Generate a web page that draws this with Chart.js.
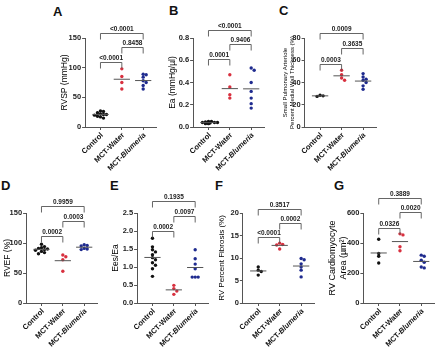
<!DOCTYPE html>
<html>
<head>
<meta charset="utf-8">
<script src="https://cdn.jsdelivr.net/npm/chart.js@4.4.1/dist/chart.umd.min.js"></script>
<style>
  body { margin: 0; width: 440px; height: 349px; background: #fff; position: relative; overflow: hidden; font-family: "Liberation Sans", Arial, sans-serif; }
  canvas { position: absolute; }
  .tag { position: absolute; font-weight: bold; font-size: 13px; line-height: 13px; color: #111; }
</style>
</head>
<body>
<div class="tag" style="left:53px;top:5px">A</div>
<div class="tag" style="left:169px;top:4px">B</div>
<div class="tag" style="left:279px;top:4px">C</div>
<div class="tag" style="left:1px;top:179px">D</div>
<div class="tag" style="left:110px;top:179px">E</div>
<div class="tag" style="left:215px;top:179px">F</div>
<div class="tag" style="left:334px;top:179px">G</div>

<script>
const groups = ['Control', 'MCT-Water', 'MCT-Blumeria'];
const colors = ['#111111', '#d8303f', '#1f2b8f'];
// every panel compares the same three pairs: Control-Blumeria, Water-Blumeria, Control-Water
const bracketPairs = [[0, 2], [1, 2], [0, 1]];

// RVSP
const rvspControl = [27, 26, 24, 22, 21, 21, 20, 18, 17, 15];
const rvspWater = [98, 85, 75, 64];
const rvspBlumeria = [89, 88, 84, 78, 75, 70, 64];
const rvspTicks = [0, 50, 100, 150];
const rvspP = ['<0.0001', '0.8458', '<0.0001'];
const rvspBracketY = [159, 134, 109];

// Ea
const eaControl = [0.05, 0.05, 0.045, 0.04, 0.04, 0.04, 0.035, 0.035, 0.03, 0.03];
const eaWater = [0.47, 0.36, 0.29, 0.26];
const eaBlumeria = [0.53, 0.51, 0.40, 0.32, 0.26, 0.21, 0.17];
const eaTicks = [0, 0.2, 0.4, 0.6, 0.8];
const eaP = ['<0.0001', '0.9406', '0.0001'];
const eaBracketY = [0.87, 0.745, 0.615];

// small pulmonary arteriole medial wall thickness
const wallControl = [28.5, 28, 27.5];
const wallWater = [51, 47, 44, 42];
const wallBlumeria = [48, 45, 43, 42, 40, 37, 34];
const wallTicks = [0, 20, 40, 60, 80];
const wallP = ['0.0009', '0.3635', '0.0003'];
const wallBracketY = [84.6, 70.9, 56.9];

// RVEF
const rvefControl = [98, 94, 92, 91, 90, 89, 88, 86, 84, 82];
const rvefWater = [80, 77, 72, 53];
const rvefBlumeria = [97, 96, 95, 91, 90, 89];
const rvefTicks = [0, 50, 100, 150];
const rvefP = ['0.9959', '0.0003', '0.0002'];
const rvefBracketY = [161, 136, 111];

// Ees/Ea
const eesControl = [1.80, 1.56, 1.48, 1.42, 1.34, 1.26, 1.20, 1.12, 1.05, 0.95, 0.74];
const eesWater = [0.49, 0.40, 0.33, 0.24];
const eesBlumeria = [1.48, 1.23, 1.08, 0.95, 0.72, 0.72, 0.72];
const eesTicks = [0, 0.5, 1.0, 1.5, 2.0, 2.5];
const eesP = ['0.1935', '0.0097', '0.0002'];
const eesBracketY = [2.84, 2.42, 2.0];

// RV fibrosis
const fibControl = [8.0, 7.3, 7.0, 6.2];
const fibWater = [13.3, 13.0, 12.9, 12.0];
const fibBlumeria = [9.9, 9.6, 8.7, 8.0, 7.3, 5.8];
const fibTicks = [0, 5, 10, 15, 20];
const fibP = ['0.3517', '0.0002', '<0.0001'];
const fibBracketY = [20.8, 17.8, 14.6];

// RV cardiomyocyte area
const areaControl = [425, 330, 312, 267];
const areaWater = [461, 454, 375, 348];
const areaBlumeria = [319, 312, 285, 272, 240, 234];
const areaTicks = [0, 200, 400, 600];
const areaP = ['0.3889', '0.0020', '0.0326'];
const areaBracketY = [700, 607, 500];

const fam = '"Liberation Sans", Arial, sans-serif';
const plotW = 71;
const xMin = -0.72, xMax = 2.6;
const catPx = plotW / (xMax - xMin);

const panels = [
  { axisX: 85, top: 38, h: 89, canvasTop: 0, canvasH: 177, gap: 20, title: 'RVSP (mmHg)', titleSize: 8.5,
    series: [rvspControl, rvspWater, rvspBlumeria], ticks: rvspTicks, pvals: rvspP, bracketY: rvspBracketY },
  { axisX: 193, top: 38, h: 89, canvasTop: 0, canvasH: 177, gap: 20, title: 'Ea (mmHg/\u00b5l)', titleSize: 8.5,
    series: [eaControl, eaWater, eaBlumeria], ticks: eaTicks, pvals: eaP, bracketY: eaBracketY, fixed: 1 },
  { axisX: 305, top: 38, h: 89, canvasTop: 0, canvasH: 177, gap: 19, title: ['Small Pulmonary Arteriole', 'Percent Medial Wall Thickness (%)'], titleSize: 6,
    series: [wallControl, wallWater, wallBlumeria], ticks: wallTicks, pvals: wallP, bracketY: wallBracketY },
  { axisX: 26, top: 213, h: 90, canvasTop: 175, canvasH: 174, gap: 18, title: 'RVEF (%)', titleSize: 8.5,
    series: [rvefControl, rvefWater, rvefBlumeria], ticks: rvefTicks, pvals: rvefP, bracketY: rvefBracketY },
  { axisX: 137, top: 213, h: 90, canvasTop: 175, canvasH: 174, gap: 21, title: 'Ees/Ea', titleSize: 8.5,
    series: [eesControl, eesWater, eesBlumeria], ticks: eesTicks, pvals: eesP, bracketY: eesBracketY, fixed: 1 },
  { axisX: 243, top: 213, h: 90, canvasTop: 175, canvasH: 174, gap: 21, title: 'RV Percent Fibrosis (%)', titleSize: 8,
    series: [fibControl, fibWater, fibBlumeria], ticks: fibTicks, pvals: fibP, bracketY: fibBracketY },
  { axisX: 363, top: 213, h: 90, canvasTop: 175, canvasH: 174, gap: 31, title: ['RV Cardiomyocyte', 'Area (\u00b5m\u00b2)'], titleSize: 9,
    series: [areaControl, areaWater, areaBlumeria], ticks: areaTicks, pvals: areaP, bracketY: areaBracketY }
];

// scatter-dot layout: push overlapping dots sideways, but keep them inside the mean line width
function spread(values, cat, pxPerUnit) {
  const d = 3, maxK = 5, placed = [];
  return values.map((v, n) => {
    const py = v * pxPerUnit;
    let off = 0, found = false;
    for (let k = 0; k <= maxK; k++) {
      off = (k % 2 ? 1 : -1) * Math.ceil(k / 2) * d;
      if (!placed.some(p => (p.px - off) ** 2 + (p.py - py) ** 2 < d * d * 0.8)) { found = true; break; }
    }
    if (!found) off = (n % 2 ? 1.5 : -1.5) * (n % 3);
    placed.push({ px: off, py: py });
    return { x: cat + off / catPx, y: v };
  });
}

function mean(arr) {
  return arr.reduce((a, b) => a + b, 0) / arr.length;
}

// significance brackets and the rotated group names
const extras = {
  id: 'extras',
  afterDraw(chart, args, opts) {
    const { ctx, chartArea } = chart;
    const xs = chart.scales.x, ys = chart.scales.y;
    ctx.save();
    ctx.strokeStyle = '#555';
    ctx.lineWidth = 0.9;
    ctx.fillStyle = '#222';
    ctx.font = 'bold 6.5px ' + fam;
    ctx.textAlign = 'center';
    ctx.textBaseline = 'bottom';
    opts.brackets.forEach(b => {
      const x1 = xs.getPixelForValue(b.from), x2 = xs.getPixelForValue(b.to);
      const yy = Math.round(ys.getPixelForValue(b.y)) + 0.5;
      ctx.beginPath();
      ctx.moveTo(x1, yy + 6);
      ctx.lineTo(x1, yy);
      ctx.lineTo(x2, yy);
      ctx.lineTo(x2, yy + 6);
      ctx.stroke();
      ctx.fillText(b.text, (x1 + x2) / 2, yy - 1.5);
    });

    ctx.fillStyle = '#111';
    ctx.textAlign = 'right';
    ctx.textBaseline = 'middle';
    groups.forEach((g, i) => {
      const px = xs.getPixelForValue(i);
      ctx.save();
      ctx.translate(px + 1.5, chartArea.bottom + 7);
      ctx.rotate(-Math.PI / 4);
      if (g === 'MCT-Blumeria') {
        ctx.font = 'italic bold 7.5px ' + fam;
        const w = ctx.measureText('Blumeria').width;
        ctx.fillText('Blumeria', 0, 0);
        ctx.font = 'bold 7.5px ' + fam;
        ctx.fillText('MCT-', -w, 0);
      } else {
        ctx.font = 'bold 7.5px ' + fam;
        ctx.fillText(g, 0, 0);
      }
      ctx.restore();
    });
    ctx.restore();
  }
};

panels.forEach(p => {
  const lineH = p.titleSize * 1.2;
  const yW = p.gap + lineH / 2;
  const canvas = document.createElement('canvas');
  const cw = Math.round(yW + plotW + 4);
  canvas.width = cw;
  canvas.height = p.canvasH;
  canvas.style.left = (p.axisX - yW) + 'px';
  canvas.style.top = p.canvasTop + 'px';
  canvas.style.width = cw + 'px';
  canvas.style.height = p.canvasH + 'px';
  document.body.appendChild(canvas);

  const yMax = p.ticks[p.ticks.length - 1];
  const pxPerUnit = p.h / yMax;
  const datasets = [];
  p.series.forEach((vals, i) => {
    const m = mean(vals);
    datasets.push({
      type: 'line',
      data: [{ x: i - 0.38, y: m }, { x: i + 0.38, y: m }],
      borderColor: '#555',
      borderWidth: 1,
      pointRadius: 0
    });
    datasets.push({
      data: spread(vals, i, pxPerUnit),
      backgroundColor: colors[i],
      borderWidth: 0,
      pointRadius: 1.7
    });
  });

  new Chart(canvas, {
    type: 'scatter',
    data: { datasets: datasets },
    options: {
      responsive: false,
      animation: false,
      events: [],
      layout: { padding: { left: 0, right: 4, top: p.top - p.canvasTop, bottom: 0 } },
      plugins: {
        legend: { display: false },
        tooltip: { enabled: false },
        extras: {
          brackets: bracketPairs.map((pair, k) => ({ from: pair[0], to: pair[1], y: p.bracketY[k], text: p.pvals[k] }))
        }
      },
      scales: {
        x: {
          type: 'linear',
          min: xMin,
          max: xMax,
          afterBuildTicks: s => { s.ticks = [0, 1, 2].map(v => ({ value: v })); },
          afterFit: s => { s.height = p.canvasH - (p.top - p.canvasTop) - p.h; },
          ticks: { display: false },
          grid: { drawOnChartArea: false, tickLength: 3, color: '#555' },
          border: { color: '#555', width: 1 }
        },
        y: {
          min: 0,
          max: yMax,
          afterFit: s => { s.width = yW; },
          ticks: {
            stepSize: p.ticks[1] - p.ticks[0],
            padding: 1,
            color: '#222',
            font: { family: fam, size: 7.5, weight: 'bold' },
            callback: v => p.fixed ? v.toFixed(p.fixed) : v
          },
          title: {
            display: true,
            text: p.title,
            color: '#000',
            padding: 0,
            font: { family: fam, size: p.titleSize }
          },
          grid: { drawOnChartArea: false, tickLength: 3, color: '#555' },
          border: { color: '#555', width: 1 }
        }
      }
    },
    plugins: [extras]
  });
});
</script>
</body>
</html>
